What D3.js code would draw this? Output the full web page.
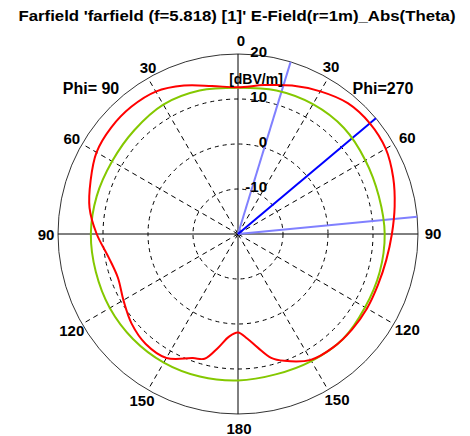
<!DOCTYPE html>
<html>
<head>
<meta charset="utf-8">
<script src="https://cdn.jsdelivr.net/npm/d3@7"></script>
<style>
  body { margin: 0; background: #fff; }
  text { font-family: "Liberation Sans", Arial, sans-serif; font-weight: bold; fill: #000; }
</style>
</head>
<body>
<svg id="chart" width="470" height="436"></svg>
<script>
'use strict';

// theta samples (deg) for the farfield cut
var thetaDeg = [0, 10, 20, 30, 40, 50, 60, 70, 80, 90, 100, 110, 120, 130, 140, 150, 160, 165, 170, 175, 180]
// right half of the plot (Phi=270), dBV/m
var absPhi270 = [12.6, 13.6, 15.1, 16.6, 17.95, 18.25, 17.9, 16.7, 15.35, 14.2, 13.45, 13.1, 13.1, 13.05, 12.9, 12.3, 10.0, 8.5, 5.7, 3.3, 1.9]
// left half of the plot (Phi=90), dBV/m
var absPhi90 = [12.6, 13.4, 15.1, 16.55, 16.9, 16.8, 16.3, 14.85, 13.5, 11.4, 9.25, 8.4, 9.4, 10.9, 11.9, 11.8, 9.35, 8.7, 5.7, 2.9, 1.9]

// green reference trace
var refTheta = [0, 15, 30, 45, 60, 75, 90, 105, 120, 135, 150, 165, 180]
var refPhi270 = [12.5, 13.0, 13.3, 13.3, 12.7, 12.4, 12.6, 12.6, 12.6, 13.0, 12.6, 12.3, 12.55]
var refPhi90 = [12.5, 13.0, 13.2, 12.6, 12.3, 12.5, 12.7, 12.7, 12.9, 13.0, 13.0, 12.8, 12.55]

var ringTicks = [-10, 0, 10, 20]
var ringTickLabels = ['-10', '0', '10', '20']
var angleTicks = [30, 60, 90, 120, 150]
var mainLobeDeg = 50
var widthLinesDeg = [17, 84.5]

var titleText = "Farfield 'farfield (f=5.818) [1]' E-Field(r=1m)_Abs(Theta)"

var svg = d3.select('#chart')
,   cx = 238
,   cy = 234
,   R = 180
,   rScale = d3.scaleLinear().domain([-20, 20]).range([0, R])
,   rad = (deg) => deg * Math.PI / 180

var g = svg.append('g').attr('transform', 'translate(' + cx + ',' + cy + ')')

// dashed rings
g.selectAll('.ring')
  .data(ringTicks.filter((v) => v < 20))
  .enter().append('circle')
  .attr('class', 'ring')
  .attr('r', (v) => rScale(v))
  .attr('fill', 'none')
  .attr('stroke', '#000')
  .attr('stroke-width', 1)
  .attr('stroke-dasharray', '4,4')

// dashed spokes, both halves
var spokes = []
angleTicks.filter((a) => a !== 90).forEach((a) => { spokes.push(a); spokes.push(-a) })

g.selectAll('.spoke')
  .data(spokes)
  .enter().append('line')
  .attr('class', 'spoke')
  .attr('x1', 0).attr('y1', 0)
  .attr('x2', (a) => R * Math.sin(rad(a)))
  .attr('y2', (a) => -R * Math.cos(rad(a)))
  .attr('stroke', '#000')
  .attr('stroke-width', 1)
  .attr('stroke-dasharray', '5,4')

// outer ring
g.append('circle')
  .attr('r', rScale(20))
  .attr('fill', 'none')
  .attr('stroke', '#333')
  .attr('stroke-width', 1)

// solid axes
g.append('line').attr('x1', 0).attr('y1', -R).attr('x2', 0).attr('y2', R)
  .attr('stroke', '#000').attr('stroke-width', 1)
g.append('line').attr('x1', -R).attr('y1', 0).attr('x2', R).attr('y2', 0)
  .attr('stroke', '#000').attr('stroke-width', 1)

// main lobe and 3 dB width lines
g.selectAll('.widthline')
  .data(widthLinesDeg)
  .enter().append('line')
  .attr('class', 'widthline')
  .attr('x1', 0).attr('y1', 0)
  .attr('x2', (a) => R * Math.sin(rad(a)))
  .attr('y2', (a) => -R * Math.cos(rad(a)))
  .attr('stroke', '#8080ff')
  .attr('stroke-width', 2)

g.append('line')
  .attr('x1', 0).attr('y1', 0)
  .attr('x2', R * Math.sin(rad(mainLobeDeg)))
  .attr('y2', -R * Math.cos(rad(mainLobeDeg)))
  .attr('stroke', '#0000ff')
  .attr('stroke-width', 2)

// build closed loop: right half 0..180, then left half back up
function loop(theta, right, left) {
  var pts = theta.map((t, i) => ({ a: rad(t), v: right[i] }))
  for (var i = theta.length - 2; i > 0; i--) {
    pts.push({ a: 2 * Math.PI - rad(theta[i]), v: left[i] })
  }
  return pts
}

var radial = d3.lineRadial()
  .angle((d) => d.a)
  .radius((d) => rScale(d.v))
  .curve(d3.curveCatmullRomClosed.alpha(0.5))

g.append('path')
  .datum(loop(refTheta, refPhi270, refPhi90))
  .attr('d', radial)
  .attr('fill', 'none')
  .attr('stroke', '#84c800')
  .attr('stroke-width', 2)

g.append('path')
  .datum(loop(thetaDeg, absPhi270, absPhi90))
  .attr('d', radial)
  .attr('fill', 'none')
  .attr('stroke', '#ff0000')
  .attr('stroke-width', 2)

// theta labels, nudged a bit like the original tool does
var angleLabels = [{ a: 0, t: '0', dx: 3, dy: -2 }, { a: 180, t: '180', dx: 1, dy: 2 }]
angleTicks.forEach((a) => {
  var nudge = a === 30 ? 6 : 0
  angleLabels.push({ a: a, t: String(a), dx: 3 - nudge, dy: -1 })
  angleLabels.push({ a: -a, t: String(a), dx: nudge, dy: 0 })
})

svg.selectAll('.alabel')
  .data(angleLabels)
  .enter().append('text')
  .attr('class', 'alabel')
  .attr('x', (d) => cx + (R + 12) * Math.sin(rad(d.a)) + d.dx)
  .attr('y', (d) => cy - (R + 12) * Math.cos(rad(d.a)) + d.dy)
  .attr('text-anchor', 'middle')
  .attr('dominant-baseline', 'central')
  .style('font-size', '15px')
  .text((d) => d.t)

// ring value labels, right of the vertical axis
var ringLabelLayer = svg.append('g').attr('class', 'ringlabels')

ringTicks.forEach((v, i) => {
  ringLabelLayer.append('text')
    .attr('x', cx + 29)
    .attr('y', cy - rScale(v) - 3)
    .attr('text-anchor', 'end')
    .attr('dominant-baseline', 'central')
    .style('font-size', '15px')
    .text(ringTickLabels[i])
})

svg.append('text')
  .attr('x', 256).attr('y', 79)
  .attr('text-anchor', 'middle')
  .attr('dominant-baseline', 'central')
  .style('font-size', '14px')
  .text('[dBV/m]')

svg.append('text')
  .attr('x', 91).attr('y', 88)
  .attr('text-anchor', 'middle')
  .attr('dominant-baseline', 'central')
  .style('font-size', '16px')
  .text('Phi= 90')

svg.append('text')
  .attr('x', 383).attr('y', 88)
  .attr('text-anchor', 'middle')
  .attr('dominant-baseline', 'central')
  .style('font-size', '16px')
  .text('Phi=270')

svg.append('text')
  .attr('x', 237).attr('y', 15)
  .attr('text-anchor', 'middle')
  .attr('dominant-baseline', 'central')
  .attr('textLength', 437)
  .attr('lengthAdjust', 'spacingAndGlyphs')
  .style('font-size', '15px')
  .text(titleText)
</script>
</body>
</html>
